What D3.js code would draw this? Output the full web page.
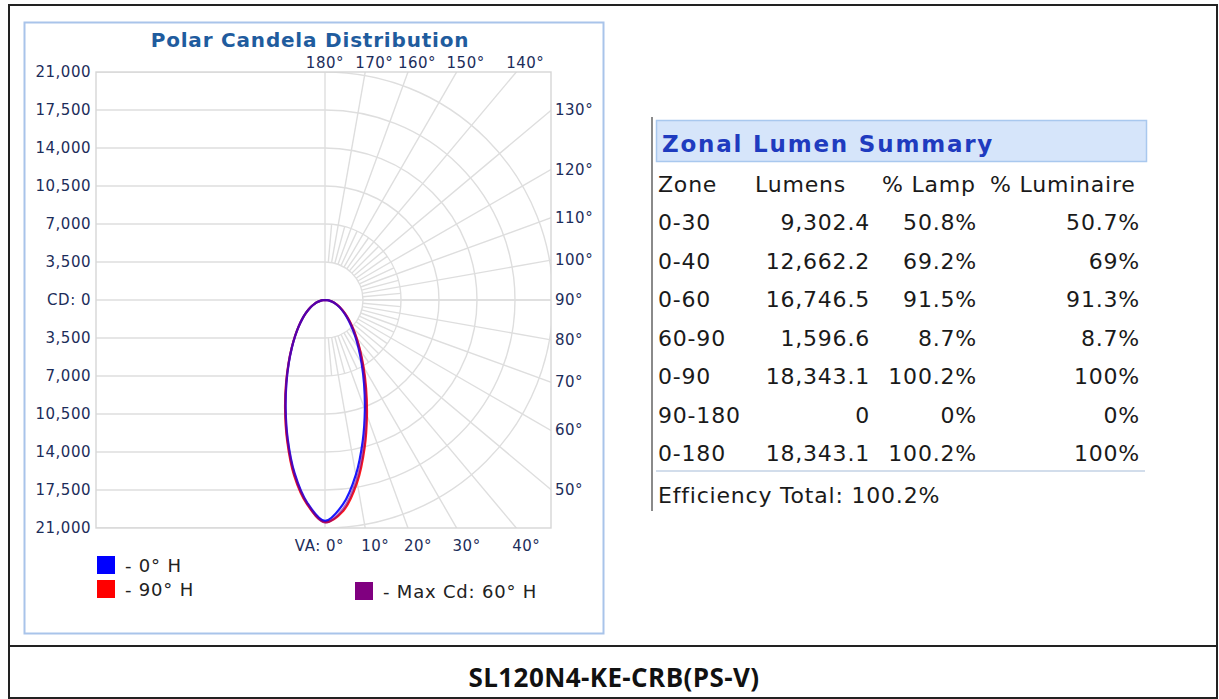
<!DOCTYPE html>
<html>
<head>
<meta charset="utf-8">
<script src="https://cdn.jsdelivr.net/npm/d3@7"></script>
<style>
  body { margin: 0; background: #fff; }
  svg { display: block; font-family: "DejaVu Sans", Verdana, sans-serif; }
</style>
</head>
<body>
<svg id="chart" width="1219" height="699"></svg>
<script>
// vertical angles (degrees from nadir) for the candela readings
const angles = [0, 5, 10, 15, 20, 25, 30, 35, 40, 45, 50, 55, 60, 65, 70, 75, 80, 85, 90];

// candela per plane (right side of the plot = plane, left side = plane + 180)
const cd0H   = [20350, 18900, 16350, 13430, 10740, 8510, 6745, 5370, 4300, 3450, 2775, 2225, 1766, 1377, 1039, 736, 458, 195, 0];
const cd180H = [20350, 18750, 16170, 13260, 10600, 8400, 6660, 5300, 4240, 3410, 2740, 2200, 1740, 1360, 1020, 720, 440, 180, 0];
const cd90H  = [20450, 19480, 17060, 14100, 11300, 8955, 7093, 5640, 4510, 3620, 2912, 2340, 1863, 1460, 1113, 804, 522, 257, 0];
const cd270H = [20450, 18900, 16400, 13450, 10750, 8500, 6720, 5340, 4270, 3430, 2760, 2210, 1750, 1365, 1025, 722, 442, 181, 0];
const cd60H  = [20500, 19300, 16800, 13850, 11080, 8780, 6960, 5550, 4440, 3560, 2860, 2300, 1830, 1430, 1090, 785, 505, 245, 0];
const cd240H = [20500, 18820, 16280, 13350, 10670, 8450, 6690, 5320, 4255, 3420, 2750, 2205, 1745, 1362, 1022, 721, 441, 180, 0];

const cdTicks = [21000, 17500, 14000, 10500, 7000, 3500, 0, -3500, -7000, -10500, -14000, -17500, -21000];
const topAngles = [180, 170, 160, 150, 140];
const sideAngles = [130, 120, 110, 100, 90, 80, 70, 60, 50];
const bottomAngles = [0, 10, 20, 30, 40];

const legendLabels = ["- 0° H", "- 90° H", "- Max Cd: 60° H"];
const legendColors = ["#0000ff", "#ff0000", "#800080"];

const zoneHeaders = ["Zone", "Lumens", "% Lamp", "% Luminaire"];
const zoneNames = ["0-30", "0-40", "0-60", "60-90", "0-90", "90-180", "0-180"];
const zoneLumens = ["9,302.4", "12,662.2", "16,746.5", "1,596.6", "18,343.1", "0", "18,343.1"];
const zoneLamp = ["50.8%", "69.2%", "91.5%", "8.7%", "100.2%", "0%", "100.2%"];
const zoneLuminaire = ["50.7%", "69%", "91.3%", "8.7%", "100%", "0%", "100%"];
const efficiencyText = "Efficiency Total: 100.2%";
const productName = "SL120N4-KE-CRB(PS-V)";

const svg = d3.select("#chart");

// outer frame and name row
svg.append("rect")
    .attr("x", 9).attr("y", 5).attr("width", 1208).attr("height", 693)
    .attr("fill", "none").attr("stroke", "#222").attr("stroke-width", 2);
svg.append("line")
    .attr("x1", 9).attr("x2", 1217).attr("y1", 646).attr("y2", 646)
    .attr("stroke", "#222").attr("stroke-width", 2);
svg.append("text")
    .attr("x", 614).attr("y", 687)
    .attr("text-anchor", "middle")
    .attr("font-family", "'Open Sans', 'Noto Sans', sans-serif")
    .attr("font-weight", "bold").attr("font-size", 26)
    .attr("letter-spacing", 0.4)
    .attr("fill", "#111")
    .text(productName);

// ---------- polar panel ----------
svg.append("rect")
    .attr("x", 24.5).attr("y", 22.5).attr("width", 579).attr("height", 611)
    .attr("fill", "#fff").attr("stroke", "#a9c4ea").attr("stroke-width", 2);

svg.append("text")
    .attr("x", 310).attr("y", 47)
    .attr("text-anchor", "middle")
    .attr("font-weight", "bold").attr("font-size", 20)
    .attr("letter-spacing", 0.8)
    .attr("fill", "#1f5c9e")
    .text("Polar Candela Distribution");

const cx = 325, cy = 300;
const plot = {x0: 96, x1: 551, y0: 72, y1: 528};
const r = d3.scaleLinear().domain([0, 21000]).range([0, 228]);
const y = d3.scaleLinear().domain([21000, -21000]).range([cy - r(21000), cy + r(21000)]);
const rad = d => d * Math.PI / 180;

svg.append("defs").append("clipPath").attr("id", "plotClip")
    .append("rect")
    .attr("x", plot.x0).attr("y", plot.y0)
    .attr("width", plot.x1 - plot.x0).attr("height", plot.y1 - plot.y0);

const grid = svg.append("g")
    .attr("clip-path", "url(#plotClip)")
    .attr("stroke", "#dedede").attr("stroke-width", 1.4).attr("fill", "none");

// horizontal lines on the left half
grid.selectAll(".hline").data(cdTicks).join("line")
    .attr("x1", plot.x0).attr("x2", d => d === 0 ? plot.x1 : cx)
    .attr("y1", d => y(d)).attr("y2", d => y(d));

// half circles on the right
grid.selectAll(".arc").data(d3.range(3500, 21001, 3500)).join("path")
    .attr("d", d => {
        const p = d3.path();
        p.arc(cx, cy, r(d), -Math.PI / 2, Math.PI / 2);
        return p.toString();
    });

// radial lines every 5 degrees (the odd ones stop at the second ring)
grid.selectAll(".spoke").data(d3.range(5, 180, 5)).join("line")
    .attr("x1", a => cx + r(3500) * Math.sin(rad(a)))
    .attr("y1", a => cy + r(3500) * Math.cos(rad(a)))
    .attr("x2", a => cx + (a % 10 === 0 ? 600 : r(7000)) * Math.sin(rad(a)))
    .attr("y2", a => cy + (a % 10 === 0 ? 600 : r(7000)) * Math.cos(rad(a)));

grid.append("line")
    .attr("x1", cx).attr("x2", cx).attr("y1", plot.y0).attr("y2", plot.y1);

svg.append("rect")
    .attr("x", plot.x0).attr("y", plot.y0)
    .attr("width", plot.x1 - plot.x0).attr("height", plot.y1 - plot.y0)
    .attr("fill", "none").attr("stroke", "#d6d6d6").attr("stroke-width", 1.4);

// axis labels
const labelColor = "#1c2d5a";
const labels = svg.append("g")
    .attr("font-size", 15).attr("letter-spacing", 0.5).attr("fill", labelColor);

labels.selectAll(".cd").data(cdTicks).join("text")
    .attr("x", 91).attr("y", d => y(d) + 5)
    .attr("text-anchor", "end")
    .text(d => d === 0 ? "CD: 0" : d3.format(",")(Math.abs(d)));

const hitX = a => cx + r(21000) * Math.abs(Math.tan(rad(a)));
labels.selectAll(".top").data(topAngles).join("text")
    .attr("x", a => a === 180 ? cx + 19 : hitX(a) + 9)
    .attr("y", 68)
    .attr("text-anchor", a => a === 180 ? "end" : "middle")
    .text(a => a + "°");
labels.selectAll(".bottom").data(bottomAngles).join("text")
    .attr("x", a => a === 0 ? cx + 19 : hitX(a) + 10)
    .attr("y", 551)
    .attr("text-anchor", a => a === 0 ? "end" : "middle")
    .text(a => a === 0 ? "VA: 0°" : a + "°");
labels.selectAll(".side").data(sideAngles).join("text")
    .attr("x", 555)
    .attr("y", a => cy + (plot.x1 - cx) * Math.cos(rad(a)) / Math.sin(rad(a)) + 5)
    .text(a => a + "°");

// candela curves: far side from 90 down to 0, near side from 0 up to 90
const curveData = (near, far) => {
    const left = angles.map((a, i) => [Math.PI + rad(a), r(far[i])]).reverse();
    const right = angles.map((a, i) => [Math.PI - rad(a), r(near[i])]).slice(1);
    return left.concat(right);
};
const radial = d3.lineRadial()
    .angle(d => d[0]).radius(d => d[1])
    .curve(d3.curveCatmullRom);

const series = [
    {near: cd90H, far: cd270H, color: legendColors[1], opacity: 0.9},
    {near: cd0H, far: cd180H, color: legendColors[0], opacity: 0.9},
    {near: cd60H, far: cd240H, color: legendColors[2], opacity: 0.6}
];
svg.append("g").attr("transform", `translate(${cx},${cy})`)
    .selectAll("path").data(series).join("path")
    .attr("d", s => radial(curveData(s.near, s.far)))
    .attr("fill", "none")
    .attr("stroke", s => s.color)
    .attr("stroke-width", 2.2)
    .attr("stroke-opacity", s => s.opacity);

// legend
const legendPos = [[97, 556], [97, 580], [355, 582]];
const legend = svg.append("g").attr("font-size", 18).attr("letter-spacing", 0.8).attr("fill", "#222");
legend.selectAll("rect").data(legendLabels).join("rect")
    .attr("x", (d, i) => legendPos[i][0]).attr("y", (d, i) => legendPos[i][1])
    .attr("width", 18).attr("height", 18)
    .attr("fill", (d, i) => legendColors[i]);
legend.selectAll("text").data(legendLabels).join("text")
    .attr("x", (d, i) => legendPos[i][0] + 28)
    .attr("y", (d, i) => legendPos[i][1] + 16)
    .text(d => d);

// ---------- zonal lumen summary ----------
const table = svg.append("g").attr("font-size", 22).attr("letter-spacing", 0.8).attr("fill", "#1a1a1a");

table.append("line")
    .attr("x1", 652).attr("x2", 652).attr("y1", 117).attr("y2", 511)
    .attr("stroke", "#8a8a8a").attr("stroke-width", 2);
table.append("rect")
    .attr("x", 656.5).attr("y", 120.5).attr("width", 490).attr("height", 41)
    .attr("fill", "#d6e5fa").attr("stroke", "#a9c8ee").attr("stroke-width", 1.5);
table.append("text")
    .attr("x", 662).attr("y", 152)
    .attr("font-weight", "bold").attr("font-size", 23).attr("letter-spacing", 1.8)
    .attr("fill", "#1f3bbf")
    .text("Zonal Lumen Summary");

const headerX = [658, 755, 882, 990];
table.selectAll(".head").data(zoneHeaders).join("text")
    .attr("x", (d, i) => headerX[i]).attr("y", 192)
    .text(d => d);

const rowY = i => 230 + i * 38.5;
const columns = [
    {values: zoneNames, x: 658, anchor: "start"},
    {values: zoneLumens, x: 870, anchor: "end"},
    {values: zoneLamp, x: 977, anchor: "end"},
    {values: zoneLuminaire, x: 1140, anchor: "end"}
];
columns.forEach(col => {
    table.append("g").selectAll("text").data(col.values).join("text")
        .attr("x", col.x).attr("y", (d, i) => rowY(i))
        .attr("text-anchor", col.anchor)
        .text(d => d);
});

table.append("line")
    .attr("x1", 656).attr("x2", 1145).attr("y1", 471).attr("y2", 471)
    .attr("stroke", "#c3d2e4").attr("stroke-width", 1.5);
table.append("text")
    .attr("x", 658).attr("y", 503)
    .text(efficiencyText);
</script>
</body>
</html>
